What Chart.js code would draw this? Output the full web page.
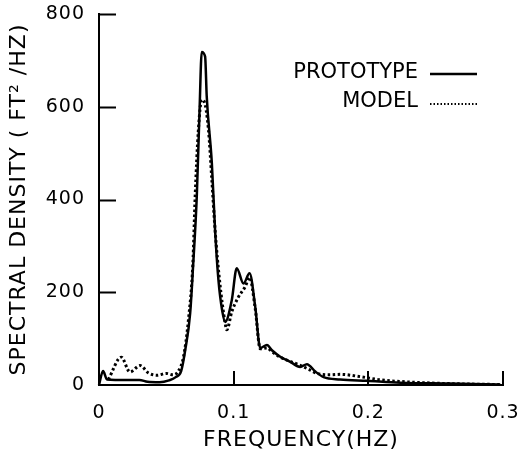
<!DOCTYPE html>
<html>
<head>
<meta charset="utf-8">
<script src="https://cdn.jsdelivr.net/npm/chart.js@4.4.1/dist/chart.umd.min.js"></script>
<style>
  html, body { margin: 0; padding: 0; background: #fff; }
  #wrap { width: 520px; height: 455px; }
</style>
</head>
<body>
<div id="wrap"><canvas id="spectrumChart"></canvas></div>
<script>
// Wave spectral density: prototype record vs. scale model
const protoFreq = [0, 0.003, 0.006, 0.012, 0.03, 0.036, 0.045, 0.052, 0.057, 0.061, 0.064, 0.0677, 0.070, 0.0726, 0.0746,
    0.0763, 0.0788, 0.080, 0.0838, 0.0862, 0.0887, 0.0915, 0.0937, 0.0986, 0.1023, 0.1073, 0.1118, 0.116, 0.1197,
    0.1247, 0.1284, 0.1346, 0.142, 0.1494, 0.1544, 0.1606, 0.1668, 0.179, 0.199, 0.224, 0.26, 0.298];
const protoDensity = [0, 30, 12, 11, 11, 7, 6, 10, 17, 30, 75, 155, 263, 406, 586,
    718, 708, 622, 478, 334, 226, 160, 136, 183, 252, 219, 241, 169, 80,
    86, 75, 61, 50, 39, 45, 29, 17, 12, 9, 5, 3, 1];

const modelFreq = [0.007, 0.0165, 0.023, 0.0305, 0.0367, 0.043, 0.050, 0.055, 0.059, 0.0627, 0.0664, 0.0697, 0.0714,
    0.0738, 0.0763, 0.078, 0.0813, 0.0838, 0.0862, 0.0895, 0.0937, 0.0949, 0.0986, 0.1036, 0.1086, 0.1118, 0.116,
    0.1197, 0.1247, 0.1284, 0.1346, 0.149, 0.1556, 0.162, 0.1717, 0.179, 0.194, 0.209, 0.2335, 0.26, 0.298];
const modelDensity = [12, 60, 28, 42, 26, 21, 25, 22, 30, 60, 140, 262, 406,
    550, 615, 612, 550, 442, 334, 226, 133, 119, 158, 190, 212, 232, 165,
    78, 80, 72, 60, 43, 34, 25, 22, 23, 18, 11, 6, 3, 1];

const freqTicks = [0, 0.1, 0.2, 0.3];
const freqTickLabels = ['0', '0.1', '0.2', '0.3'];
const densityTicks = [0, 200, 400, 600, 800];
const seriesNames = ['PROTOTYPE', 'MODEL'];

const FONT = '"DejaVu Sans", "Liberation Sans", sans-serif';

const toPoints = (xs, ys) => xs.map((f, i) => ({ x: f, y: ys[i] }));

/* ── tick marks pointing into the plot ───────────────── */
const innerTicks = {
    id: 'innerTicks',
    afterDatasetsDraw(chart) {
        const { ctx, chartArea, scales: { x, y } } = chart;
        ctx.save();
        ctx.strokeStyle = '#000';
        ctx.lineWidth = 2;
        ctx.beginPath();
        densityTicks.slice(1).forEach(v => {
            const py = Math.round(y.getPixelForValue(v)) + 0.5;
            ctx.moveTo(chartArea.left, py);
            ctx.lineTo(chartArea.left + 17, py);
        });
        freqTicks.slice(1).forEach(v => {
            const px = Math.round(x.getPixelForValue(v));
            ctx.moveTo(px, chartArea.bottom);
            ctx.lineTo(px, chartArea.bottom - 14);
        });
        ctx.stroke();
        ctx.restore();
    }
};

/* ── lettering spacing + hand-placed key ─────────────── */
const lettering = {
    id: 'lettering',
    beforeDraw(chart) {
        chart.ctx.letterSpacing = '1px';
    },
    afterDraw(chart) {
        const { ctx, chartArea } = chart;
        ctx.save();
        ctx.letterSpacing = '0px';
        ctx.font = '21px ' + FONT;
        ctx.fillStyle = '#000';
        ctx.textAlign = 'right';
        ctx.textBaseline = 'middle';
        const textRight = chartArea.right - 85;
        const x0 = chartArea.right - 73, x1 = chartArea.right - 26;
        const rows = [chartArea.top + 59, chartArea.top + 88];

        ctx.fillText(seriesNames[0], textRight, rows[0]);
        ctx.fillText(seriesNames[1], textRight, rows[1]);

        ctx.strokeStyle = '#000';
        ctx.lineWidth = 2.5;
        ctx.beginPath();
        ctx.moveTo(x0, rows[0] + 1);
        ctx.lineTo(x1, rows[0] + 1);
        ctx.stroke();

        ctx.lineWidth = 2;
        ctx.setLineDash([1.5, 2]);
        ctx.beginPath();
        ctx.moveTo(x0, rows[1] + 2);
        ctx.lineTo(x1, rows[1] + 2);
        ctx.stroke();
        ctx.restore();
        ctx.letterSpacing = '0px';
    }
};

new Chart(document.getElementById('spectrumChart'), {
    type: 'line',
    data: {
        datasets: [
            {
                label: seriesNames[0],
                data: toPoints(protoFreq, protoDensity),
                borderColor: '#000',
                borderWidth: 2.5,
                pointRadius: 0,
                cubicInterpolationMode: 'monotone',
                fill: false,
                clip: 4
            },
            {
                label: seriesNames[1],
                data: toPoints(modelFreq, modelDensity),
                borderColor: '#000',
                borderWidth: 3,
                borderDash: [2.5, 2.5],
                pointRadius: 0,
                cubicInterpolationMode: 'monotone',
                fill: false,
                clip: 4
            }
        ]
    },
    options: {
        responsive: true,
        maintainAspectRatio: false,
        animation: false,
        layout: { padding: { top: 14, right: 17, left: 0, bottom: 0 } },
        plugins: {
            legend: { display: false },
            tooltip: { enabled: false }
        },
        scales: {
            x: {
                type: 'linear',
                min: 0,
                max: 0.3,
                grid: { display: false },
                border: { display: true, color: '#000', width: 2 },
                afterBuildTicks: scale => { scale.ticks = freqTicks.map(v => ({ value: v })); },
                afterFit: scale => {
                    scale.height = 70;
                    scale.paddingLeft = 0;
                    scale.paddingRight = 0;
                },
                ticks: {
                    color: '#000',
                    padding: 9,
                    maxRotation: 0,
                    font: { family: FONT, size: 19 },
                    callback: (v, i) => freqTickLabels[i]
                },
                title: {
                    display: true,
                    text: 'FREQUENCY(HZ)',
                    color: '#000',
                    font: { family: FONT, size: 22 },
                    padding: { top: 0, bottom: 2 }
                }
            },
            y: {
                min: 0,
                max: 800,
                grid: { display: false },
                border: { display: true, color: '#000', width: 2 },
                afterBuildTicks: scale => { scale.ticks = densityTicks.map(v => ({ value: v })); },
                afterFit: scale => {
                    scale.width = 99;
                    scale.paddingTop = 0;
                    scale.paddingBottom = 0;
                },
                ticks: {
                    color: '#000',
                    padding: 6,
                    font: { family: FONT, size: 19 },
                    callback: v => String(v)
                },
                title: {
                    display: true,
                    text: 'SPECTRAL DENSITY ( FT² /HZ)',
                    color: '#000',
                    font: { family: FONT, size: 22 },
                    padding: { top: 6, bottom: 0 }
                }
            }
        }
    },
    plugins: [innerTicks, lettering]
});
</script>
</body>
</html>
